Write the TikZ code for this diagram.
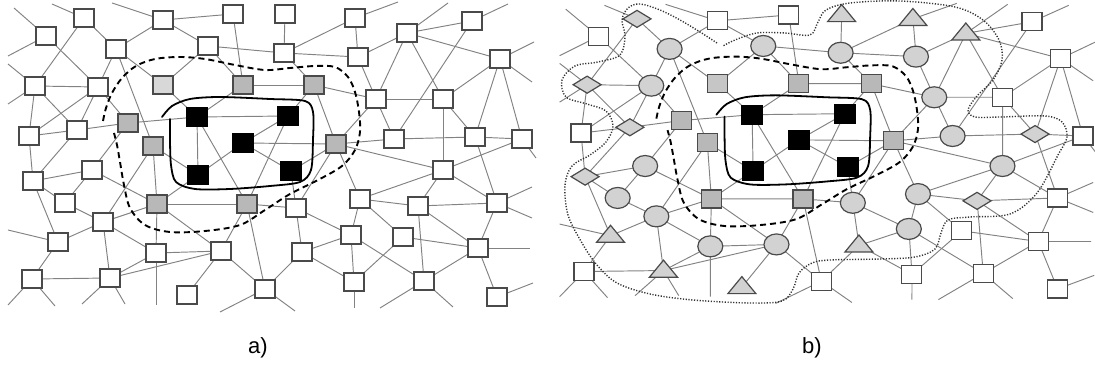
\documentclass[tikz,border=0pt]{standalone}
\usepackage{fontspec}
\setmainfont{Liberation Sans}
\usetikzlibrary{shapes.geometric,backgrounds}
\definecolor{edgegray}{HTML}{828282}
\definecolor{outl}{HTML}{4A4A4A}
\definecolor{fillgray}{HTML}{B8B8B8}
\definecolor{lightgray2}{HTML}{D8D8D8}
\definecolor{shapegray}{HTML}{D2D2D2}
\tikzset{
  link/.style={draw=edgegray, line width=0.95pt},
  base/.style={inner sep=0pt, outer sep=0pt, line width=1.2pt, draw=outl},
  wsq/.style={base, rectangle, fill=white, minimum width=20pt, minimum height=18pt},
  gsq/.style={base, rectangle, fill=fillgray, minimum width=20pt, minimum height=18pt},
  ksq/.style={base, rectangle, fill=black, draw=black, minimum width=21pt, minimum height=19pt},
  solidcurve/.style={draw=black, line width=1.8pt, line cap=round},
  dashcurve/.style={draw=black, line width=1.9pt, dash pattern=on 6pt off 4pt},
  dotcurve/.style={draw=black!80, line width=1.4pt, dash pattern=on 1.2pt off 1.6pt},
  lbl/.style={font=\fontsize{22}{26}\selectfont, inner sep=0pt}
}
\newcommand\netgraph[1]{%
  \foreach \n/\s/\x/\y in {n1/sq/46/36, n2/diam/84/18, n3/sq/163/20, n4/sq/233/14,
    n5/circ/116/49, n6/circ/208/46, n7/diam/35/86, n8/circ/98/87,
    g1/gryl/163/85, g2/gry/243/85, g3/gry/128/123, g4/gry/153/146,
    b1/blk/197/117, b2/blk/243/143, n9/sq/29/136, n10/diam/77/130,
    n11/tri/285/14, n12/tri/355/18, n13/circ/284/53, n14/tri/407/33,
    n15/sq/472/21, n16/circ/358/57, n17/sq/500/59, g5/gry/314/85,
    b3/blk/288/116, n18/circ/376/99, n19/sq/443/99, g6/gry/336/144,
    n20/circ/394/139, n21/diam/475/137, n22/sq/522/139, b4/blk/198/175,
    n23/diam/33/181, n24/circ/92/170, n25/circ/65/203, n26/circ/103/222,
    g7/gry/157/204, g8/gry/247/204, n27/tri/58/242, n28/circ/156/253,
    n29/circ/221/251, n30/sq/32/279, n31/tri/110/278, n32/tri/187/295,
    n33/sq/265/289, b5/blk/291/171, n34/circ/296/208, n35/circ/443/170,
    n36/circ/360/199, n37/diam/418/206, n38/sq/497/203, n39/circ/351/235,
    n40/sq/403/237, n41/tri/302/252, n42/sq/478/248, n43/sq/354/282,
    n44/sq/424/281, n45/sq/497/297}
    {\node[\s] (#1\n) at (\x,\y) {};}
  \foreach \n/\x/\y in {d1/14/8, d2/8/56, d3/52/4, d4/112/3, d5/8/64, d6/8/104,
    d7/398/2, d8/448/3, d9/508/4, d10/534/42, d11/532/82, d12/536/158,
    d13/8/230, d14/8/305, d15/55/306, d16/82/304, d17/125/304, d18/156/305,
    d19/220/312, d20/295/311, d21/354/308, d22/380/308, d23/453/307,
    d24/533/283, d25/530/248, d26/532/187, d27/532/218}
    {\coordinate (#1\n) at (\x,\y);}
  \begin{pgfonlayer}{background}
  \foreach \u/\v in {n1/n8, n2/n7, n2/n5, n3/n5, n3/n4, n3/n6, n4/g2, n5/n8,
    n5/g1, n5/g4, n6/g1, n6/g2, n6/n13, n7/n8, n7/n9, n7/n10, n8/n9, n8/n10,
    n8/g3, n9/n10, n9/n23, n10/g3, n10/n23, g3/b1, g3/n24, g1/b1, g2/b1,
    g2/g5, b1/b3, b1/b4, b1/g8, b2/b3, b2/g6, b2/b5, b2/b4, b3/g8, b3/g5,
    b4/g4, b4/g7, b5/g6, b5/n34, g4/g7, g4/n26, g7/g8, g7/n24, g7/n26,
    g7/n28, g7/n29, g8/n29, g8/n33, g8/n34, n11/n13, n12/n13, n12/n16,
    n13/n16, n13/g5, n14/n16, n14/n15, n14/n17, n14/n18, n14/n19, n15/n20,
    n16/n18, n17/n19, n17/n21, n17/n22, n18/g5, n18/n19, n18/n20, n18/g6,
    n19/n21, n19/n35, n20/g6, n20/n21, n21/n22, n21/n38, g5/g6, g6/n34,
    g6/n36, g6/n35, n22/n35, n23/n24, n23/n25, n23/n27, n24/n25, n25/n26,
    n26/n27, n26/n28, n26/n31, n27/n30, n28/n29, n28/n31, n29/n31, n29/n32,
    n29/n33, n30/n31, n33/n41, n34/n39, n34/n41, n35/n36, n35/n37, n35/n38,
    n36/n37, n36/n39, n36/n40, n37/n38, n37/n42, n37/n44, n38/n42, n39/n41,
    n39/n43, n39/n44, n40/n42, n40/n43, n41/n43, n42/n44, n42/n45,
    n1/d1, n1/d2, n2/d3, n3/d4, n7/d5, n7/d6, n12/d7, n14/d8, n15/d9,
    n17/d10, n17/d11, n22/d12, n27/d13, n30/d14, n30/d15, n31/d16, n31/d17,
    n28/d18, n33/d19, n33/d20, n43/d21, n44/d22, n44/d23, n45/d24, n42/d25,
    n38/d26, n38/d27}
    {\draw[link] (#1\u) -- (#1\v);}
  \end{pgfonlayer}
  \draw[dashcurve] plot[smooth, tension=0.55] coordinates {(103,121) (106,108)
    (112,93) (122,78) (136,66) (155,59) (180,57) (205,59) (235,65) (265,70)
    (290,68) (315,66) (335,67) (348,77) (355,92) (359,112) (360,132) (355,150)
    (342,166) (318,180) (290,194) (265,210) (240,225) (205,231) (170,232)
    (145,225) (130,208) (124,185) (120,162) (117,145) (114,133)};
  \draw[solidcurve] plot[smooth, tension=0.5] coordinates {(170,119) (170,140)
    (171,165) (176,182) (195,189) (230,189) (270,186) (300,182) (311,170)
    (313,140) (313,112) (305,101) (270,99) (220,97) (190,99) (172,106) (162,117)};
}
\begin{document}
\begin{tikzpicture}[x=1pt, y=-1pt]
\useasboundingbox (0,0) rectangle (1095,371);
\begin{scope}[sq/.style={wsq}, circ/.style={wsq}, diam/.style={wsq}, tri/.style={wsq},
  gry/.style={gsq}, gryl/.style={gsq, fill=lightgray2}, blk/.style={ksq}]
\netgraph{a}
\end{scope}
\begin{scope}[shift={(551.5,1.45)}, xscale=1.018, yscale=0.968,
  sq/.style={wsq},
  circ/.style={base, ellipse, fill=shapegray, minimum width=25pt, minimum height=21pt},
  diam/.style={base, diamond, fill=shapegray, minimum width=28pt, minimum height=17pt},
  tri/.style={base, isosceles triangle, isosceles triangle stretches, shape border rotate=90,
    fill=shapegray, minimum width=28pt, minimum height=17pt},
  gry/.style={gsq}, gryl/.style={gsq, fill=fillgray!80}, blk/.style={ksq}]
\netgraph{b}
\end{scope}
\draw[dotcurve] plot[smooth, tension=0.55] coordinates {(717,43) (700,32) (680,20)
  (660,10) (640,4) (628,8) (622,20) (625,36) (620,55) (598,62) (575,66) (562,80)
  (566,97) (587,104) (606,111) (613,126) (606,142) (590,155) (572,166) (565,185)
  (568,215) (582,243) (597,265) (617,283) (650,294) (693,300) (750,303) (782,301)
  (793,289) (799,273) (812,263) (830,260) (880,259) (915,257) (935,249) (941,233)
  (948,220) (970,217) (1010,214) (1037,193) (1058,155) (1067,137) (1062,122)
  (1045,116) (1000,117) (975,117) (968,110) (977,96) (993,80) (1002,60) (999,40)
  (983,20) (955,7) (900,1) (850,3) (826,10) (818,22) (810,35) (785,33) (757,33)
  (735,40) (723,46)};
\node[lbl] (la) at (258,348) {a)};
\node[lbl] (lb) at (812,348) {b)};
\end{tikzpicture}
\end{document}
